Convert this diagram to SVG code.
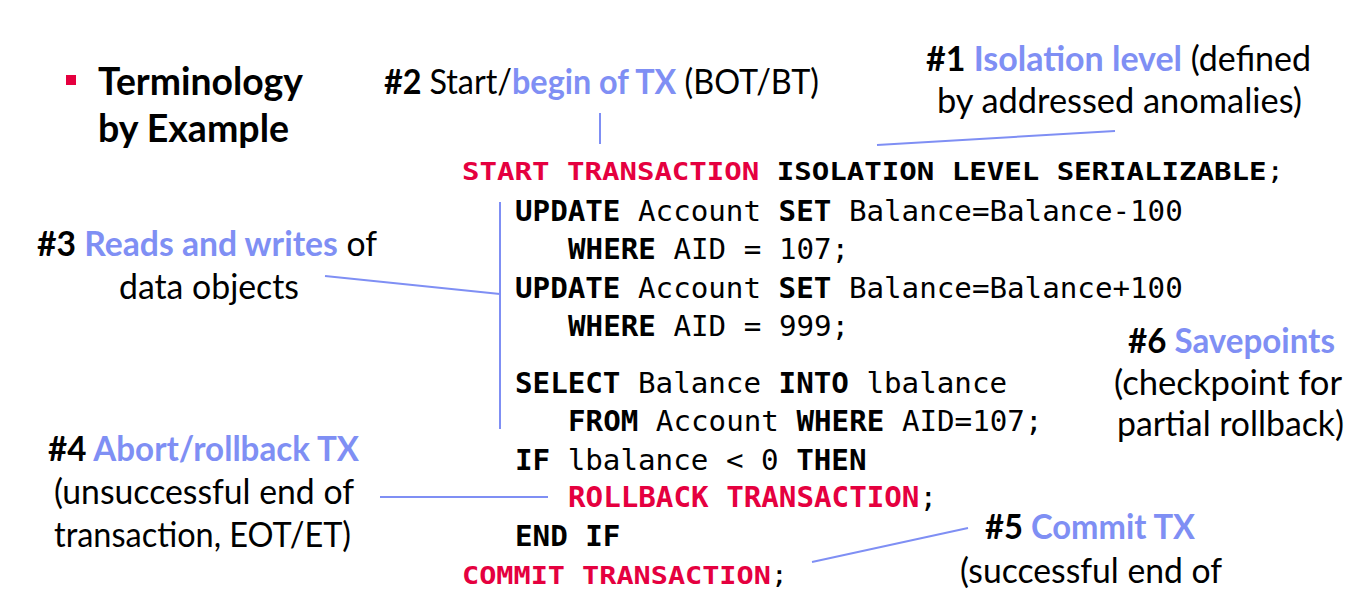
<svg xmlns="http://www.w3.org/2000/svg" width="1361" height="597" viewBox="0 0 1361 597">
<style>
.lbl{font-family:Lato,"Open Sans","Liberation Sans",sans-serif;font-size:35px;fill:#000}
.ttl{font-family:Lato,"Open Sans","Liberation Sans",sans-serif;font-size:39px;font-weight:bold;fill:#000}
.b{font-weight:bold}
.blue{fill:#7f8ff4;font-weight:bold}
.code{font-family:"DejaVu Sans Mono","Liberation Mono",monospace;font-size:29.2px;fill:#000}
.code2{font-family:"DejaVu Sans Mono","Liberation Mono",monospace;font-size:24px;fill:#000}
.red{fill:#e5003f;font-weight:bold}
.ln{stroke:#7f8ff4;stroke-width:2;fill:none}
</style>
<rect width="1361" height="597" fill="#fff"/>
<g id="title">
<rect x="66" y="75" width="10" height="10" fill="#e5003f"/>
<text class="ttl" x="98" y="95" textLength="205" lengthAdjust="spacingAndGlyphs">Terminology</text>
<text class="ttl" x="98" y="142" textLength="191" lengthAdjust="spacingAndGlyphs">by Example</text>
</g>
<g id="code">
<text class="code2" x="462" y="180" textLength="822" lengthAdjust="spacingAndGlyphs"><tspan class="red">START TRANSACTION</tspan><tspan class="b"> ISOLATION LEVEL SERIALIZABLE</tspan>;</text>
<text class="code" x="515" y="221"><tspan class="b">UPDATE</tspan> Account <tspan class="b">SET</tspan> Balance=Balance-100</text>
<text class="code" x="568" y="259"><tspan class="b">WHERE</tspan> AID = 107;</text>
<text class="code" x="515" y="298"><tspan class="b">UPDATE</tspan> Account <tspan class="b">SET</tspan> Balance=Balance+100</text>
<text class="code" x="568" y="336"><tspan class="b">WHERE</tspan> AID = 999;</text>
<text class="code" x="515" y="393"><tspan class="b">SELECT</tspan> Balance <tspan class="b">INTO</tspan> lbalance</text>
<text class="code" x="568" y="431"><tspan class="b">FROM</tspan> Account <tspan class="b">WHERE</tspan> AID=107;</text>
<text class="code" x="515" y="470"><tspan class="b">IF</tspan> lbalance &lt; 0 <tspan class="b">THEN</tspan></text>
<text class="code" x="568" y="507"><tspan class="red">ROLLBACK TRANSACTION</tspan>;</text>
<text class="code" x="515" y="546"><tspan class="b">END IF</tspan></text>
<text class="code2" x="462" y="584" textLength="326" lengthAdjust="spacingAndGlyphs"><tspan class="red">COMMIT TRANSACTION</tspan>;</text>
</g>
<g id="n2">
<text class="lbl" x="384" y="94" textLength="435" lengthAdjust="spacingAndGlyphs"><tspan class="b">#2 </tspan>Start/<tspan class="blue">begin of TX</tspan> (BOT/BT)</text>
</g>
<g id="n1">
<text class="lbl" x="926" y="71" textLength="385" lengthAdjust="spacingAndGlyphs"><tspan class="b">#1 </tspan><tspan class="blue">Isolation level</tspan> (defined</text>
<text class="lbl" x="937" y="113" textLength="365" lengthAdjust="spacingAndGlyphs">by addressed anomalies)</text>
</g>
<g id="n3">
<text class="lbl" x="37" y="256" textLength="340" lengthAdjust="spacingAndGlyphs"><tspan class="b">#3 </tspan><tspan class="blue">Reads and writes</tspan> of</text>
<text class="lbl" x="119" y="299" textLength="180" lengthAdjust="spacingAndGlyphs">data objects</text>
</g>
<g id="n4">
<text class="lbl" x="48" y="461" textLength="311" lengthAdjust="spacingAndGlyphs"><tspan class="b">#4 </tspan><tspan class="blue">Abort/rollback TX</tspan></text>
<text class="lbl" x="54" y="504" textLength="300" lengthAdjust="spacingAndGlyphs">(unsuccessful end of</text>
<text class="lbl" x="54" y="547" textLength="297" lengthAdjust="spacingAndGlyphs">transaction, EOT/ET)</text>
</g>
<g id="n5">
<text class="lbl" x="985" y="539" textLength="210" lengthAdjust="spacingAndGlyphs"><tspan class="b">#5 </tspan><tspan class="blue">Commit TX</tspan></text>
<text class="lbl" x="960" y="583" textLength="262" lengthAdjust="spacingAndGlyphs">(successful end of</text>
</g>
<g id="n6">
<text class="lbl" x="1128" y="353" textLength="207" lengthAdjust="spacingAndGlyphs"><tspan class="b">#6 </tspan><tspan class="blue">Savepoints</tspan></text>
<text class="lbl" x="1114" y="395" textLength="228" lengthAdjust="spacingAndGlyphs">(checkpoint for</text>
<text class="lbl" x="1117" y="436" textLength="227" lengthAdjust="spacingAndGlyphs">partial rollback)</text>
</g>
<g id="connectors">
<line class="ln" x1="600" y1="113" x2="600" y2="144"/>
<line class="ln" x1="877" y1="145" x2="1115" y2="131"/>
<line class="ln" x1="500" y1="202" x2="500" y2="429"/>
<line class="ln" x1="325" y1="276" x2="500" y2="294"/>
<line class="ln" x1="380" y1="497" x2="548" y2="497"/>
<line class="ln" x1="812" y1="562" x2="968" y2="528"/>
</g>
</svg>
